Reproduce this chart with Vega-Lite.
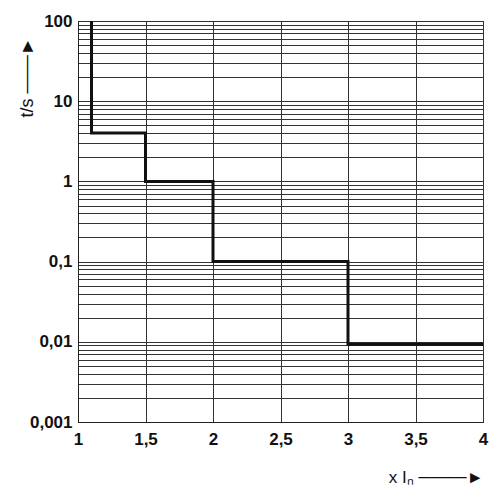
{
  "$schema": "https://vega.github.io/schema/vega-lite/v6.json",
  "autosize": {"type": "none"},
  "padding": {"left": 78, "top": 21, "right": 17, "bottom": 78},
  "width": 405,
  "height": 401,
  "background": "white",
  "config": {
    "view": {"stroke": "#222", "strokeWidth": 1},
    "font": "Liberation Sans"
  },
  "data": {
    "values": [
      {"i": 1, "x": 1.1, "t": 100},
      {"i": 2, "x": 1.1, "t": 4},
      {"i": 3, "x": 1.5, "t": 4},
      {"i": 4, "x": 1.5, "t": 1},
      {"i": 5, "x": 2, "t": 1},
      {"i": 6, "x": 2, "t": 0.1},
      {"i": 7, "x": 3, "t": 0.1},
      {"i": 8, "x": 3, "t": 0.0093},
      {"i": 9, "x": 4, "t": 0.0093}
    ]
  },
  "mark": {"type": "line", "color": "#111", "strokeWidth": 3, "clip": true},
  "encoding": {
    "order": {"field": "i", "type": "quantitative"},
    "x": {
      "field": "x",
      "type": "quantitative",
      "scale": {"domain": [1, 4], "nice": false, "zero": false},
      "axis": {
        "values": [1, 1.5, 2, 2.5, 3, 3.5, 4],
        "labelExpr": "replace(format(datum.value, '~g'), '.', ',')",
        "labelFont": "Liberation Sans",
        "labelFontSize": 17,
        "labelFontWeight": "bold",
        "labelColor": "#111",
        "labelPadding": 9,
        "labelFlush": false,
        "ticks": false,
        "domainColor": "#222",
        "grid": true,
        "gridColor": "#333",
        "gridWidth": 1,
        "gridOpacity": 1,
        "title": "x Iₙ ────►",
        "titleFont": "Liberation Sans",
        "titleFontSize": 17,
        "titleFontWeight": "normal",
        "titleColor": "#111",
        "titleAlign": "right",
        "titleBaseline": "middle",
        "titleX": 405,
        "titleY": 55
      }
    },
    "y": {
      "field": "t",
      "type": "quantitative",
      "scale": {"type": "log", "domain": [0.001, 100], "nice": false},
      "axis": {
        "values": [0.001, 0.002, 0.003, 0.004, 0.005, 0.006, 0.007, 0.008, 0.009,
                   0.01, 0.02, 0.03, 0.04, 0.05, 0.06, 0.07, 0.08, 0.09,
                   0.1, 0.2, 0.3, 0.4, 0.5, 0.6, 0.7, 0.8, 0.9,
                   1, 2, 3, 4, 5, 6, 7, 8, 9,
                   10, 20, 30, 40, 50, 60, 70, 80, 90, 100],
        "labelExpr": "(abs(log(datum.value)/log(10) - round(log(datum.value)/log(10))) < 0.0001) ? replace(format(datum.value, '~g'), '.', ',') : ''",
        "labelFont": "Liberation Sans",
        "labelFontSize": 17,
        "labelFontWeight": "bold",
        "labelColor": "#111",
        "labelPadding": 6,
        "labelFlush": false,
        "labelOverlap": false,
        "ticks": false,
        "domainColor": "#222",
        "grid": true,
        "gridColor": "#333",
        "gridWidth": 1,
        "gridOpacity": 1,
        "title": "t/s  ───►",
        "titleFont": "Liberation Sans",
        "titleFontSize": 18,
        "titleFontWeight": "normal",
        "titleColor": "#111",
        "titleAngle": -90,
        "titleAlign": "left",
        "titleBaseline": "middle",
        "titleX": -51,
        "titleY": 96
      }
    }
  }
}
